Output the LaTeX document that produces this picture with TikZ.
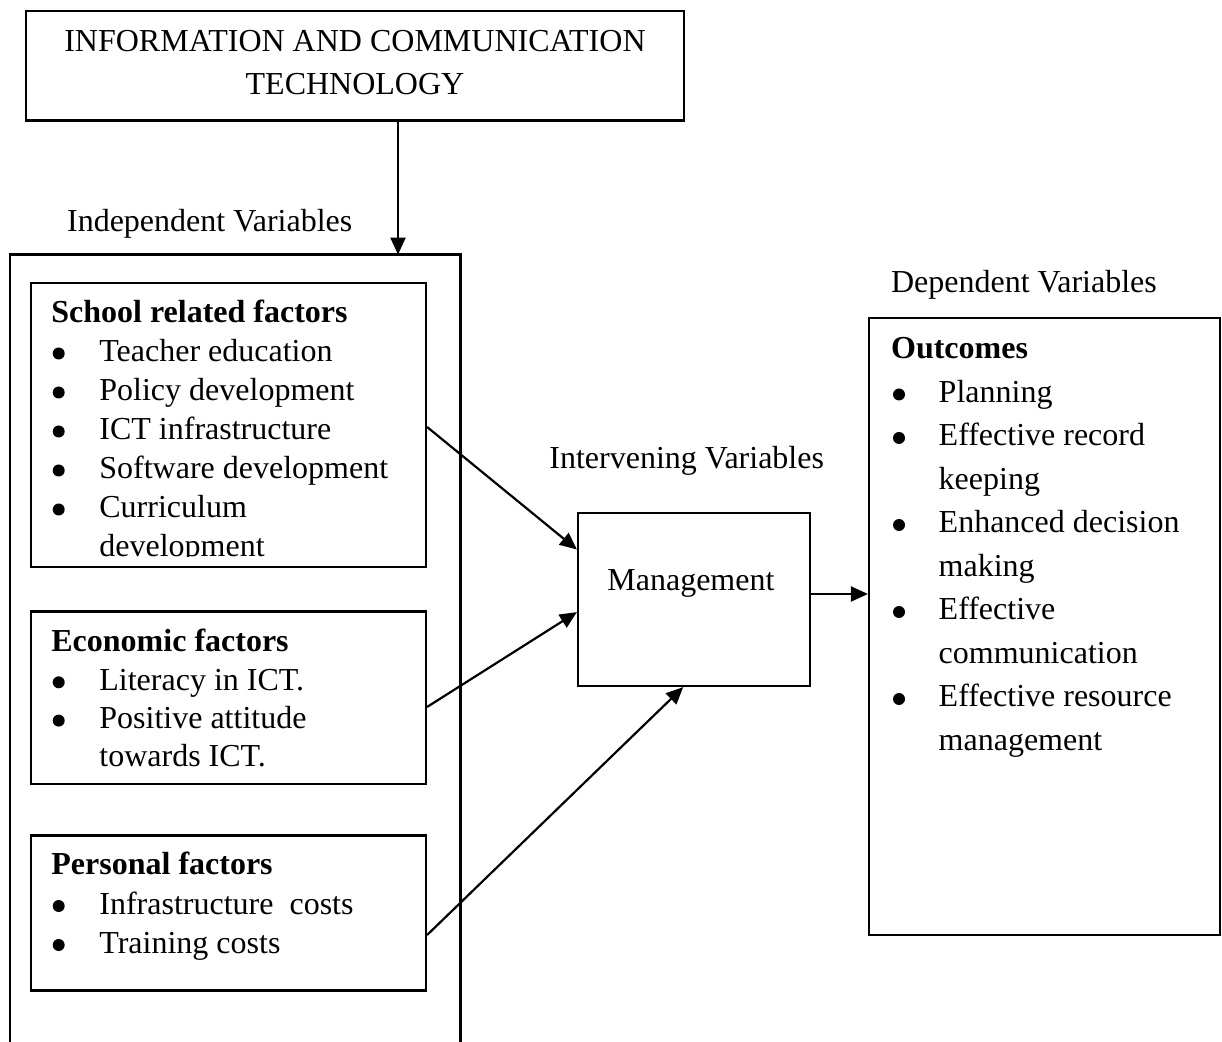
\documentclass[tikz,border=0pt]{standalone}
\usepackage{fontspec}
\setmainfont{Liberation Serif}
\usetikzlibrary{arrows.meta,fit,calc}
\begin{document}
\begin{tikzpicture}[x=0.5pt,y=-0.5pt,
  box/.style={draw, line width=1.1pt, inner sep=0pt},
  txt/.style={inner sep=0pt, font=\fontsize{16}{19}\selectfont},
  head/.style={inner sep=0pt, font=\fontsize{16}{19}\selectfont\bfseries, anchor=base west},
  item/.style={txt, anchor=base west},
  ctext/.style={txt, anchor=base},
  conn/.style={line width=1.1pt, -{Triangle[length=8.5pt,width=7.5pt]}},
  frame/.style={line width=1.1pt}
]
\useasboundingbox (0,0) rectangle (1222,1042);

% Top box
\node[box, fit={(26,11) (684,120.5)}] (ict) {};
\node[ctext] (ict1) at (355,51.7) {INFORMATION AND COMMUNICATION};
\node[ctext] (ict2) at (355,94.3) {TECHNOLOGY};

% Outer (independent variables) frame, open at the bottom
\node[inner sep=0pt, fit={(10,255) (460,1042)}] (outer) {};
\draw[frame] (outer.south west) -- (outer.north west) -- (outer.north east) -- (outer.south east);
\node[item] (indep) at (66.7,231.7) {Independent Variables};

% School related factors
\node[box, fit={(31,283) (426,567)}] (school) {};
\begin{scope}
\clip (31,283) rectangle (426,556.5);
\node[head] (sh) at (51,322.5) {School related factors};
\foreach \n/\yy/\b/\t in {1/361.5/1/Teacher education, 2/400.5/1/Policy development, 3/439.5/1/ICT infrastructure, 4/478.5/1/Software development, 5/517.5/1/Curriculum, 6/556.5/0/development}{
  \node[item] (s\n) at (99,\yy) {\t};
  \ifnum\b=1 \fill (58.7,\yy-8) circle[radius=3pt];\fi
}
\end{scope}

% Economic factors
\node[box, fit={(31,611.5) (426,784)}] (econ) {};
\node[head] (eh) at (51,652) {Economic factors};
\foreach \n/\yy/\b/\t in {1/690.3/1/Literacy in ICT., 2/728.6/1/Positive attitude, 3/766.9/0/towards ICT.}{
  \node[item] (e\n) at (99,\yy) {\t};
  \ifnum\b=1 \fill (58.7,\yy-8) circle[radius=3pt];\fi
}

% Personal factors
\node[box, fit={(31,835.5) (426,990.5)}] (pers) {};
\node[head] (ph) at (51,875) {Personal factors};
\foreach \n/\yy/\b/\t in {1/914/1/Infrastructure\ \ costs, 2/953/1/Training costs}{
  \node[item] (p\n) at (99,\yy) {\t};
  \ifnum\b=1 \fill (58.7,\yy-8) circle[radius=3pt];\fi
}

% Intervening
\node[item] (interv) at (549,469) {Intervening Variables};
\node[box, fit={(578,513) (810,686)}] (mgmt) {};
\node[item] (mgmtl) at (607,591) {Management};

% Dependent
\node[item] (dep) at (890.7,293) {Dependent Variables};
\node[box, fit={(869,318) (1220,935)}] (out) {};
\node[head] (oh) at (890.7,359) {Outcomes};
\foreach \n/\yy/\b/\t in {1/402.5/1/Planning, 2/446/1/Effective record, 3/489.5/0/keeping, 4/533/1/Enhanced decision, 5/576.5/0/making, 6/620/1/Effective, 7/663.5/0/communication, 8/707/1/Effective resource, 9/750.5/0/management}{
  \node[item] (o\n) at (938.3,\yy) {\t};
  \ifnum\b=1 \fill (899,\yy-8) circle[radius=3pt];\fi
}

% Connectors
\coordinate (ia) at ([xshift=21.5pt]ict.south);
\draw[conn] (ia) -- (ia |- outer.north);
\draw[conn] ([yshift=-1pt]school.east) -- ([yshift=25pt]mgmt.west);
\draw[conn] ([yshift=-4.6pt]econ.east) -- ([yshift=-6.3pt]mgmt.west);
\draw[conn] ([yshift=-11pt]pers.east) -- ([xshift=-5.4pt]mgmt.south);
\coordinate (ma) at ([yshift=2.75pt]mgmt.east);
\draw[conn] (ma) -- (ma -| out.west);
\end{tikzpicture}
\end{document}
